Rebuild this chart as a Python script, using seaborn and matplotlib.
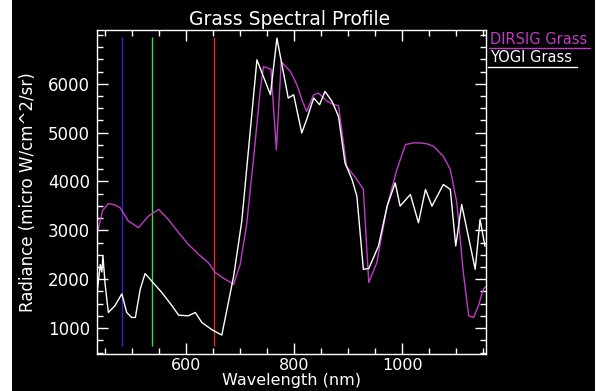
import matplotlib
matplotlib.use('Agg')
import matplotlib.pyplot as plt
import seaborn as sns
from matplotlib.patches import Rectangle
from matplotlib.lines import Line2D
from matplotlib.ticker import MultipleLocator, FixedLocator

# DIRSIG simulated grass radiance
dirsig_wl = [435, 445, 456, 468, 478, 493, 512, 530, 549, 567, 586, 604, 623, 641,
             654, 672, 688, 700, 712, 725, 737, 743, 757, 767, 776, 793, 805, 815,
             823, 836, 845, 860, 873, 882, 897, 916, 928, 938, 953, 972, 990, 1006,
             1020, 1033, 1046, 1058, 1076, 1089, 1101, 1113, 1123, 1132, 1141, 1150,
             1155]
dirsig_rad = [2900, 3400, 3550, 3520, 3460, 3190, 3055, 3290, 3430, 3224, 2953, 2714,
              2510, 2340, 2137, 2000, 1900, 2300, 3120, 4500, 5850, 6350, 6300, 4650,
              6450, 6250, 5980, 5650, 5435, 5775, 5810, 5650, 5571, 5551, 4312, 4041,
              3837, 1933, 2341, 3496, 4245, 4755, 4790, 4790, 4770, 4720, 4516, 4245,
              3565, 2137, 1251, 1218, 1455, 1796, 1850]

# YOGI measured grass radiance
yogi_wl = [435, 441, 444, 446, 450, 456, 468, 481, 490, 499, 506, 515, 524, 536, 555,
           574, 586, 604, 617, 629, 648, 666, 688, 703, 731, 756, 768, 789, 799, 814,
           823, 836, 847, 857, 870, 882, 894, 907, 916, 928, 938, 956, 972, 987, 996,
           1015, 1030, 1043, 1055, 1076, 1089, 1099, 1110, 1135, 1144, 1153]
yogi_rad = [1700, 2300, 2150, 2480, 1900, 1320, 1455, 1700, 1320, 1218, 1218, 1796,
            2116, 1966, 1728, 1455, 1265, 1251, 1320, 1116, 965, 857, 2067, 3190, 6490,
            5775, 6933, 5707, 5775, 4993, 5265, 5707, 5571, 5843, 5639, 5333, 4382,
            4041, 3700, 2204, 2218, 2680, 3496, 3973, 3496, 3735, 3156, 3837, 3496,
            3939, 3837, 2680, 3530, 2204, 3224, 2680]

# RGB band markers
band_wl = [481, 537, 652]
band_colors = ['#2a2ad0', '#3ee03e', '#e02a2a']

x_ticks = [600, 800, 1000]
y_ticks = [1000, 2000, 3000, 4000, 5000, 6000]

magenta = '#c03cc8'

plt.rcParams['font.family'] = ['DejaVu Sans']

fig = plt.figure(figsize=(6.04, 3.91), dpi=100)
fig.patch.set_facecolor('white')
fig.patches.append(Rectangle((12 / 604, 0), 583 / 604, 1, transform=fig.transFigure,
                             facecolor='black', edgecolor='none', zorder=-10))

ax = fig.add_axes([97 / 604, 1 - 354 / 391, 389 / 604, 324 / 391])
ax.set_facecolor('black')

ax.vlines(band_wl, 640, 6960, colors=band_colors, lw=1.0)
sns.lineplot(x=dirsig_wl, y=dirsig_rad, color=magenta, lw=1.0, ax=ax)
sns.lineplot(x=yogi_wl, y=yogi_rad, color='white', lw=1.0, ax=ax)

ax.set_xlim(435, 1155)
ax.set_ylim(470, 7100)
ax.xaxis.set_major_locator(FixedLocator(x_ticks))
ax.xaxis.set_minor_locator(MultipleLocator(50))
ax.yaxis.set_major_locator(FixedLocator(y_ticks))
ax.yaxis.set_minor_locator(MultipleLocator(250))
ax.tick_params(which='both', direction='in', colors='white', top=True, right=True,
               labelsize=12, width=1)
ax.tick_params(which='major', length=8, pad=5)
ax.tick_params(axis='x', which='major', labelsize=11.5, pad=3)
ax.tick_params(which='minor', length=4)
for s in ax.spines.values():
    s.set_color('white')
    s.set_linewidth(1)

ax.set_xlabel('Wavelength (nm)', color='white', fontsize=11.5)
ax.xaxis.set_label_coords(0.5, -0.058)
ax.set_ylabel('Radiance (micro W/cm^2/sr)', color='white', fontsize=12, labelpad=8)
fig.text(290 / 604, 1 - 25 / 391, 'Grass Spectral Profile', color='white',
         fontsize=13.5, ha='center', va='baseline')

# legend: underlined labels at right
fig.text(490 / 604, 1 - 40 / 391, 'DIRSIG Grass', color=magenta, fontsize=10.5,
         ha='left', va='center')
fig.lines.append(Line2D([489 / 604, 590 / 604], [1 - 48 / 391, 1 - 48 / 391],
                        transform=fig.transFigure, color=magenta, lw=1))
fig.text(490 / 604, 1 - 58 / 391, 'YOGI Grass', color='white', fontsize=10.5,
         ha='left', va='center')
fig.lines.append(Line2D([488 / 604, 577 / 604], [1 - 67 / 391, 1 - 67 / 391],
                        transform=fig.transFigure, color='white', lw=1))

plt.savefig('out.png', dpi=100, facecolor=fig.get_facecolor())
